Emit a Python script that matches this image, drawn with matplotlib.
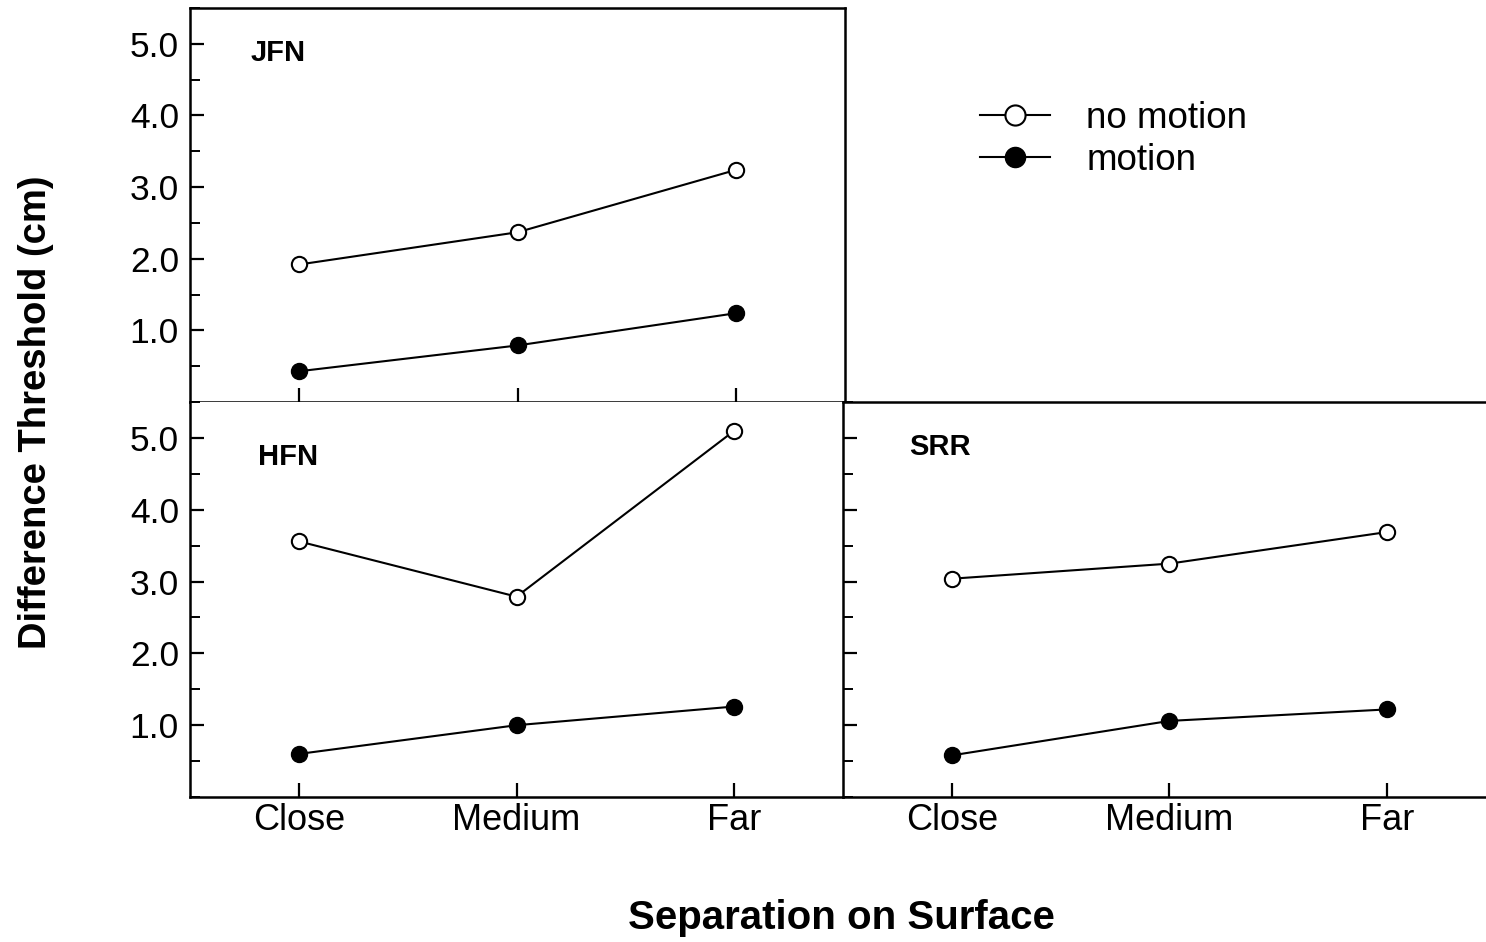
import numpy as np
import matplotlib.pyplot as plt
from matplotlib.lines import Line2D
from matplotlib.ticker import MultipleLocator, FixedLocator

plt.rcParams["font.family"] = ["Liberation Sans", "DejaVu Sans"]

# ============= Data =============

separation = ["Close", "Medium", "Far"]

jfn_no_motion = [1.92, 2.37, 3.24]
jfn_motion = [0.43, 0.79, 1.24]

hfn_no_motion = [3.56, 2.79, 5.10]
hfn_motion = [0.60, 1.00, 1.26]

srr_no_motion = [3.04, 3.25, 3.69]
srr_motion = [0.58, 1.06, 1.22]

y_major = [1.0, 2.0, 3.0, 4.0, 5.0]

# ============= Figure =============

fig = plt.figure(figsize=(14.86, 9.42), dpi=100)

ax_jfn = fig.add_axes([0.1279, 0.5732, 0.4408, 0.4183])
ax_hfn = fig.add_axes([0.1279, 0.1539, 0.4394, 0.4193])
ax_srr = fig.add_axes([0.5673, 0.1539, 0.4394, 0.4193])

x = np.arange(len(separation))


def draw_panel(ax, no_motion, motion, name, name_xy, ylabels=True, xlabels=True):
    ax.plot(x, no_motion, color="black", lw=1.5, marker="o", ms=11,
            mfc="white", mec="black", mew=1.5, zorder=3)
    ax.plot(x, motion, color="black", lw=1.5, marker="o", ms=11.5,
            mfc="black", mec="black", zorder=3)
    ax.set_xlim(-0.5, 2.5)
    ax.set_ylim(0, 5.5)
    ax.yaxis.set_major_locator(FixedLocator(y_major))
    ax.yaxis.set_minor_locator(MultipleLocator(0.5))
    ax.set_xticks(x)
    if xlabels:
        ax.set_xticklabels(separation, fontsize=26)
    else:
        ax.set_xticklabels([])
    if ylabels:
        ax.set_yticklabels(["%.1f" % v for v in y_major], fontsize=25.5)
    else:
        ax.set_yticklabels([])
    ax.tick_params(axis="x", which="major", direction="in", length=10,
                   width=1.6, pad=4)
    ax.tick_params(axis="y", which="major", direction="in", length=10,
                   width=1.6, pad=8)
    ax.tick_params(axis="y", which="minor", direction="in", length=7, width=1.4)
    ax.tick_params(axis="x", which="minor", bottom=False)
    for sp in ax.spines.values():
        sp.set_linewidth(1.8)
    ax.text(name_xy[0], name_xy[1], name, transform=ax.transAxes,
            fontsize=21, fontweight="bold", va="center", ha="left")


draw_panel(ax_jfn, jfn_no_motion, jfn_motion, "JFN", (0.093, 0.887), xlabels=False)
draw_panel(ax_hfn, hfn_no_motion, hfn_motion, "HFN", (0.104, 0.861))
draw_panel(ax_srr, srr_no_motion, srr_motion, "SRR", (0.101, 0.886), ylabels=False)

ax_hfn.spines["top"].set_visible(False)
ax_hfn.spines["right"].set_visible(False)

# ============= Legend =============

handles = [
    Line2D([], [], color="black", lw=1.5, marker="o", ms=14.5, mfc="white",
           mec="black", mew=1.5),
    Line2D([], [], color="black", lw=1.5, marker="o", ms=14.5, mfc="black",
           mec="black"),
]
fig.legend(handles, ["no motion", "motion"], loc="upper left",
           bbox_to_anchor=(0.637, 0.928), frameon=False, fontsize=26.5,
           handlelength=1.9, handletextpad=1.0, labelspacing=0.2)

# ============= Axis labels =============

fig.text(0.024, 0.562, "Difference Threshold (cm)", rotation=90,
         fontsize=27.5, fontweight="bold", ha="center", va="center")
fig.text(0.566, 0.026, "Separation on Surface", fontsize=29,
         fontweight="bold", ha="center", va="center")

fig.savefig("out.png", dpi=100)
